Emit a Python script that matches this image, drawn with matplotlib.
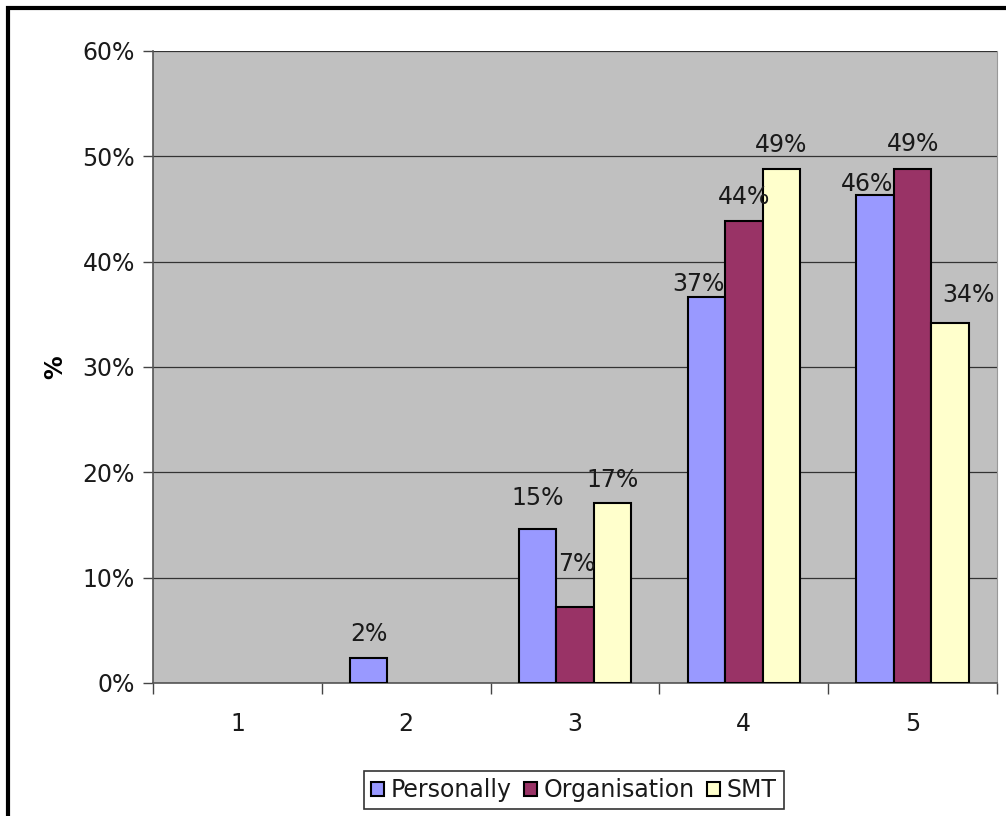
import numpy as np
import matplotlib
matplotlib.use("Agg")
import matplotlib.pyplot as plt
from matplotlib.patches import Rectangle

plt.rcParams['font.family'] = ['DejaVu Sans']

categories = ['1', '2', '3', '4', '5']
series = ['Personally', 'Organisation', 'SMT']
personally = [0.0, 0.024, 0.146, 0.366, 0.463]
organisation = [0.0, 0.0, 0.072, 0.439, 0.488]
smt = [0.0, 0.0, 0.171, 0.488, 0.342]
colors = ['#9999FF', '#993366', '#FFFFCC']

# value label placement: gap above bar top and sideways nudge, in pixels
gap = [[0, 17, 24, 6, 4], [0, 0, 36, 17, 18], [0, 0, 16, 17, 21]]
nudge = [[0, 0, 0, -8, -8], [0, 0, 2, 0, 0], [0, 0, 0, 0, 18]]

fig = plt.figure(figsize=(10.06, 8.16), dpi=100)
ax = fig.add_axes([153 / 1006, 1 - 683 / 816, (997 - 153) / 1006, (683 - 51) / 816])
ax.set_facecolor('#C0C0C0')

x = np.arange(len(categories))
width = 1 / 4.5
fs = 17
for i, (name, vals, col) in enumerate(zip(series, [personally, organisation, smt], colors)):
    pos = x + (i - 1) * width
    h = [v if v > 0 else np.nan for v in vals]
    bars = ax.bar(pos, h, width, color=col, edgecolor='black', linewidth=1.5,
                  label=name, zorder=3)
    for b, v, dy, dx in zip(bars, vals, gap[i], nudge[i]):
        if v > 0:
            ax.annotate(f'{v:.0%}', (b.get_x() + b.get_width() / 2, v),
                        xytext=(dx, dy), textcoords='offset pixels',
                        ha='center', va='baseline', fontsize=fs, color='#1a1a1a',
                        zorder=4)

ax.set_xlim(-0.5, 4.5)
ax.set_ylim(0, 0.6)
yt = np.arange(0, 0.61, 0.1)
ax.set_yticks(yt)
ax.set_yticklabels([f'{int(round(t * 100))}%' for t in yt])
ax.yaxis.grid(True, color='#333333', linewidth=0.9, zorder=1)
ax.set_axisbelow(True)

# category labels centred, ticks between categories
ax.set_xticks(x)
ax.set_xticklabels(categories)
ax.set_xticks(np.arange(-0.5, 5, 1), minor=True)
ax.tick_params(axis='x', which='major', length=0, pad=21, labelsize=fs, labelcolor='#1a1a1a')
ax.tick_params(axis='x', which='minor', length=8, width=1, color='#444444', direction='out')
ax.tick_params(axis='y', length=7, width=1, color='#444444', direction='out', labelsize=fs,
               pad=6, labelcolor='#1a1a1a')

for s in ['left', 'bottom']:
    ax.spines[s].set_color('#555555')
    ax.spines[s].set_linewidth(1.2)
ax.spines['top'].set_visible(False)
ax.spines['right'].set_color('#999999')

ax.set_ylabel('%', fontsize=fs, fontweight='bold', labelpad=11)

leg = fig.legend(loc='center', bbox_to_anchor=(574 / 1006, 1 - 790 / 816), ncol=3,
                 fontsize=fs, frameon=True, fancybox=False, handlelength=0.55,
                 handleheight=0.55, handletextpad=0.3, columnspacing=0.5,
                 borderpad=0.3, borderaxespad=0)
leg.get_frame().set_edgecolor('black')
leg.get_frame().set_linewidth(1.2)
for t in leg.get_texts():
    t.set_color('#1a1a1a')

# outer frame, open on the right and bottom
fig.add_artist(Rectangle((8 / 1006, -0.1), 1.2, 1 - 8 / 816 + 0.1, transform=fig.transFigure,
                         fill=False, edgecolor='black', linewidth=3))

fig.savefig('out.png', dpi=100)
